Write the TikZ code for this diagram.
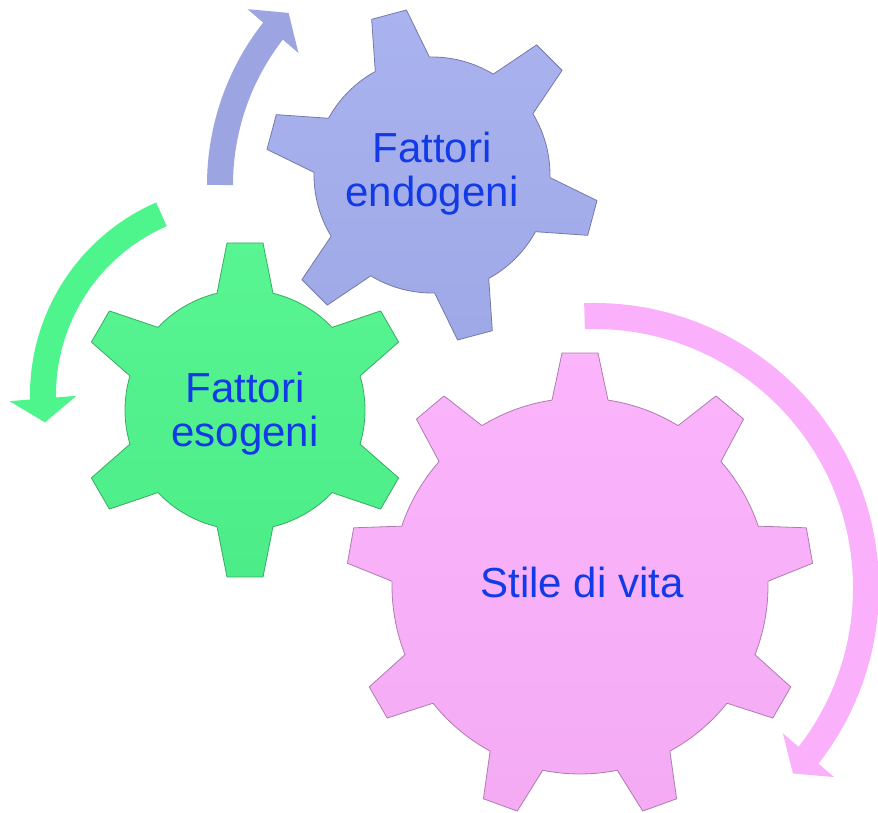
\documentclass[tikz,border=0pt]{standalone}
\usepackage{fontspec}
\setmainfont{Liberation Sans}
\usetikzlibrary{arrows.meta,bending}

\definecolor{gearblue}{RGB}{164,174,238}
\definecolor{geargreen}{RGB}{78,244,140}
\definecolor{gearpink}{RGB}{251,176,251}
\definecolor{labelblue}{RGB}{18,58,230}

% gear: center, body radius, tip radius, teeth, first tooth angle, colour
\newcommand{\drawgear}[6]{%
  \pgfmathsetmacro\gstep{360/#4}
  \pgfmathsetmacro\db{asin(28/#2)}
  \pgfmathsetmacro\dt{atan(18/#3)}
  \pgfmathsetmacro\rt{veclen(#3,18)}
  \pgfmathsetmacro\gsecond{#5+\gstep}
  \pgfmathsetmacro\glast{#5+(#4-1)*\gstep}
  \begin{scope}[shift={#1}]
  \path[gearbody, top color=#6!94!white, bottom color=#6!97!black, draw=#6!70!black]
    (#5-\db:#2) \foreach \a in {#5,\gsecond,...,\glast} {
      -- (\a-\dt:\rt) -- (\a+\dt:\rt) -- (\a+\db:#2)
      arc[start angle=\a+\db, end angle=\a+\gstep-\db, radius=#2]} -- cycle;
  \end{scope}}

\begin{document}
\begin{tikzpicture}[x=1pt, y=1pt,
  gearbody/.style={line width=0.8pt, line join=round},
  gearlabel/.style={text=labelblue, align=center, inner sep=0pt, font=\fontsize{42}{44}\selectfont},
  arrowband/.style={line width=26pt, -{Triangle[width=66pt, length=24pt]}}]
\useasboundingbox (0,0) rectangle (878,813);
\drawgear{(432,638)}{118}{166}{6}{45}{gearblue}
\drawgear{(245,403)}{120}{167}{6}{30}{geargreen}
\drawgear{(580,227)}{188}{233}{9}{10}{gearpink}
\coordinate (blueaxis) at (470,628);
\coordinate (greenaxis) at (240,418);
\coordinate (pinkaxis) at (594,225);
\draw[arrowband, gearblue!95!black] (blueaxis) ++(180:250) arc[start angle=180, end angle=136.5, radius=250];
\draw[arrowband, geargreen] (greenaxis) ++(113.5:197) arc[start angle=113.5, end angle=188, radius=197];
\draw[arrowband, gearpink] (pinkaxis) ++(92:272) arc[start angle=92, end angle=-43, radius=272];
\node[gearlabel] (endogeni) at (432,639) {Fattori\\endogeni};
\node[gearlabel] (esogeni) at (245,399) {Fattori\\esogeni};
\node[gearlabel] (stile) at (582,231) {Stile di vita};
\end{tikzpicture}
\end{document}
